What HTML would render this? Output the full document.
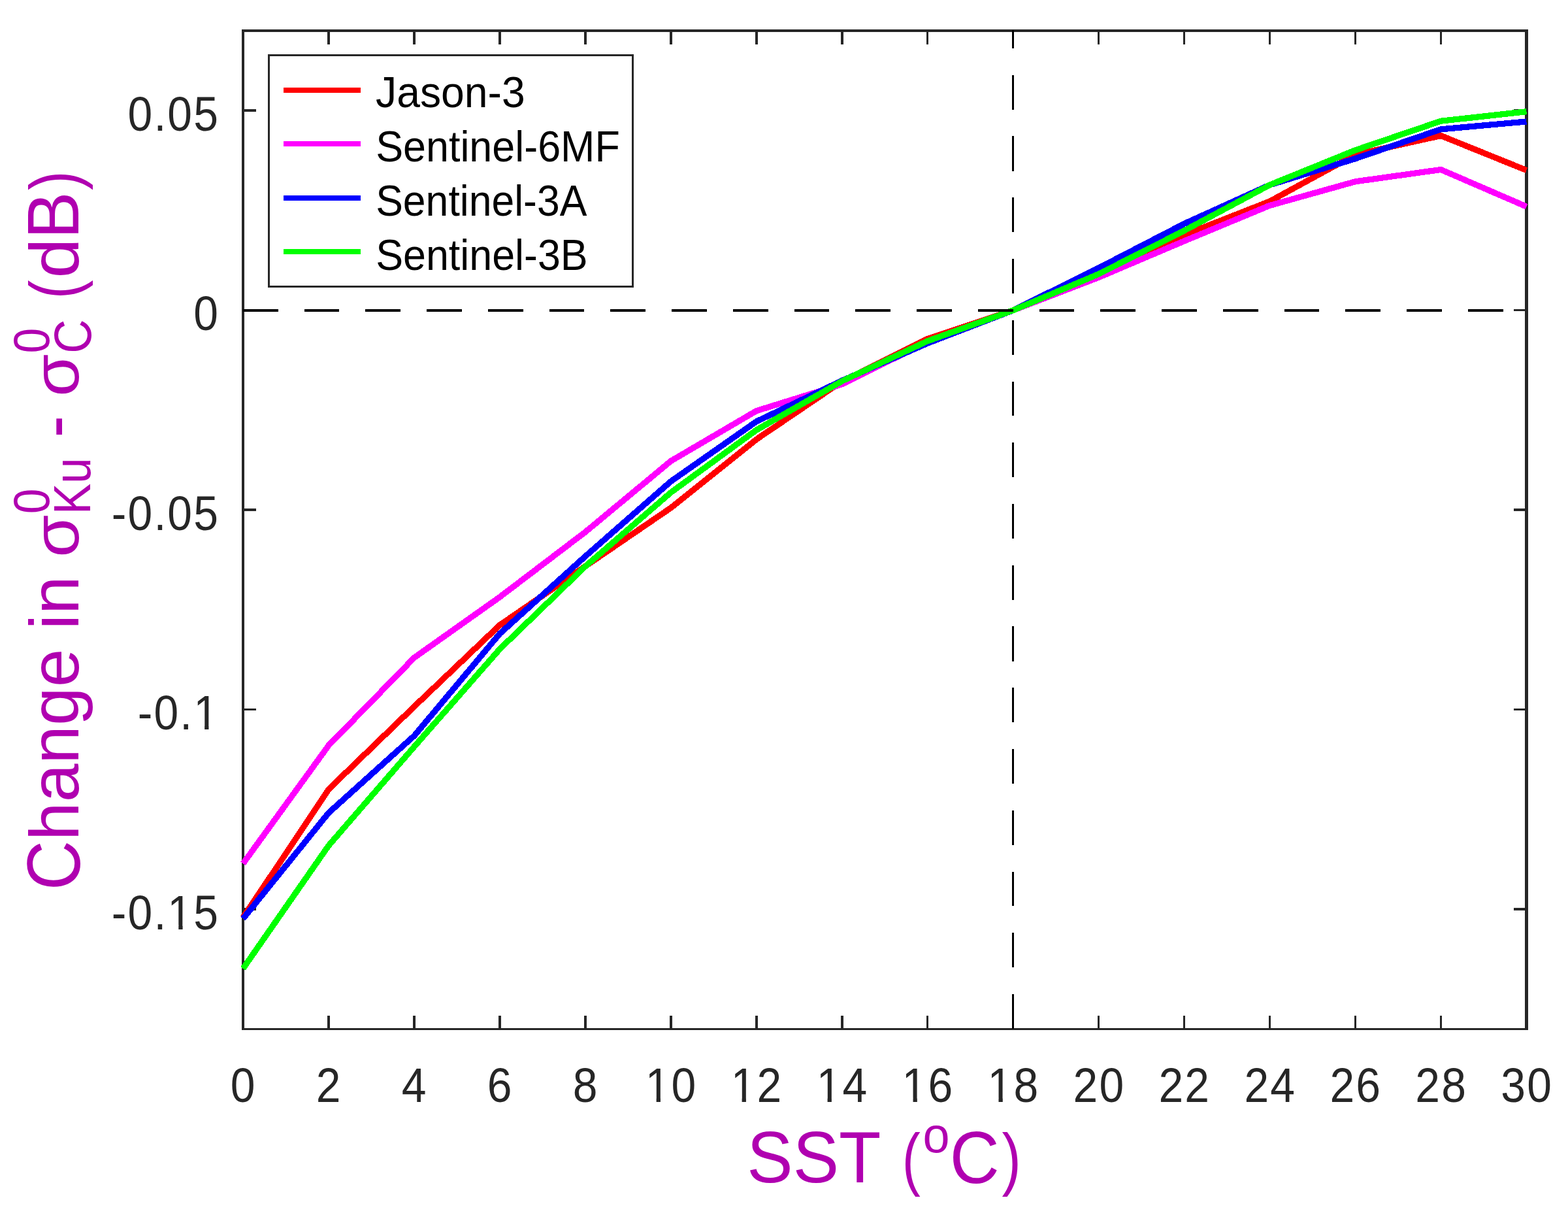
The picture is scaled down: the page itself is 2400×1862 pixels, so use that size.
<!DOCTYPE html>
<html lang="en"><head><meta charset="utf-8"><title>Change in sigma0 (Ku - C) versus SST</title>
<style>html,body{margin:0;padding:0;background:#fff}svg{display:block}text{font-family:"Liberation Sans",Arial,Helvetica,sans-serif}</style></head><body>
<svg xmlns="http://www.w3.org/2000/svg" width="2400" height="1862" viewBox="0 0 2400 1862">
<rect width="2400" height="1862" fill="#fff"/>
<g shape-rendering="crispEdges">
<rect x="370" y="45" width="1969" height="4" fill="#262626"/>
<rect x="370" y="1573" width="1969" height="3" fill="#262626"/>
<rect x="370" y="45" width="4" height="1531" fill="#262626"/>
<rect x="2334" y="45" width="5" height="1531" fill="#262626"/>
<rect x="501" y="1554" width="4" height="19" fill="#262626"/>
<rect x="501" y="49" width="4" height="19" fill="#262626"/>
<rect x="632" y="1554" width="4" height="19" fill="#262626"/>
<rect x="632" y="49" width="4" height="19" fill="#262626"/>
<rect x="763" y="1554" width="4" height="19" fill="#262626"/>
<rect x="763" y="49" width="4" height="19" fill="#262626"/>
<rect x="894" y="1554" width="4" height="19" fill="#262626"/>
<rect x="894" y="49" width="4" height="19" fill="#262626"/>
<rect x="1025" y="1554" width="4" height="19" fill="#262626"/>
<rect x="1025" y="49" width="4" height="19" fill="#262626"/>
<rect x="1156" y="1554" width="4" height="19" fill="#262626"/>
<rect x="1156" y="49" width="4" height="19" fill="#262626"/>
<rect x="1287" y="1554" width="4" height="19" fill="#262626"/>
<rect x="1287" y="49" width="4" height="19" fill="#262626"/>
<rect x="1418" y="1554" width="3" height="19" fill="#262626"/>
<rect x="1418" y="49" width="3" height="19" fill="#262626"/>
<rect x="1549" y="1554" width="3" height="19" fill="#262626"/>
<rect x="1549" y="49" width="3" height="19" fill="#262626"/>
<rect x="1680" y="1554" width="3" height="19" fill="#262626"/>
<rect x="1680" y="49" width="3" height="19" fill="#262626"/>
<rect x="1811" y="1554" width="3" height="19" fill="#262626"/>
<rect x="1811" y="49" width="3" height="19" fill="#262626"/>
<rect x="1942" y="1554" width="3" height="19" fill="#262626"/>
<rect x="1942" y="49" width="3" height="19" fill="#262626"/>
<rect x="2073" y="1554" width="3" height="19" fill="#262626"/>
<rect x="2073" y="49" width="3" height="19" fill="#262626"/>
<rect x="2204" y="1554" width="3" height="19" fill="#262626"/>
<rect x="2204" y="49" width="3" height="19" fill="#262626"/>
<rect x="374" y="167" width="18" height="4" fill="#262626"/>
<rect x="2317" y="167" width="17" height="4" fill="#262626"/>
<rect x="374" y="473" width="18" height="3" fill="#262626"/>
<rect x="2317" y="473" width="17" height="3" fill="#262626"/>
<rect x="374" y="778" width="18" height="4" fill="#262626"/>
<rect x="2317" y="778" width="17" height="4" fill="#262626"/>
<rect x="374" y="1084" width="18" height="3" fill="#262626"/>
<rect x="2317" y="1084" width="17" height="3" fill="#262626"/>
<rect x="374" y="1389" width="18" height="4" fill="#262626"/>
<rect x="2317" y="1389" width="17" height="4" fill="#262626"/>
</g>
<g fill="none" stroke-width="9.2" stroke-linejoin="round" stroke-linecap="butt" shape-rendering="crispEdges">
<polyline stroke="#ff0000" points="372.04,1404.00 503.00,1207.60 633.96,1081.10 764.92,956.40 895.88,866.40 1026.84,777.00 1157.80,672.20 1288.76,583.50 1419.72,518.40 1550.68,474.75 1681.64,417.40 1812.60,359.50 1943.56,308.00 2074.52,236.60 2205.48,207.60 2336.44,260.50"/>
<polyline stroke="#ff00ff" points="372.04,1321.30 503.00,1140.50 633.96,1006.30 764.92,913.50 895.88,814.00 1026.84,705.40 1157.80,628.60 1288.76,587.90 1419.72,523.00 1550.68,474.75 1681.64,424.40 1812.60,368.80 1943.56,314.40 2074.52,277.80 2205.48,259.50 2336.44,316.10"/>
<polyline stroke="#0000ff" points="372.04,1405.60 503.00,1243.60 633.96,1125.80 764.92,969.50 895.88,851.20 1026.84,736.50 1157.80,644.90 1288.76,582.40 1419.72,525.20 1550.68,474.75 1681.64,410.00 1812.60,342.30 1943.56,282.90 2074.52,242.70 2205.48,197.80 2336.44,186.00"/>
<polyline stroke="#00ff00" points="372.04,1481.90 503.00,1293.70 633.96,1142.50 764.92,993.10 895.88,866.60 1026.84,753.50 1157.80,657.90 1288.76,583.10 1419.72,521.80 1550.68,474.75 1681.64,419.30 1812.60,352.90 1943.56,282.90 2074.52,229.75 2205.48,185.20 2336.44,170.70"/>
</g>
<g shape-rendering="crispEdges">
<rect x="372" y="473" width="54" height="4" fill="#000"/>
<rect x="466" y="473" width="53" height="4" fill="#000"/>
<rect x="559" y="473" width="54" height="4" fill="#000"/>
<rect x="653" y="473" width="54" height="4" fill="#000"/>
<rect x="747" y="473" width="54" height="4" fill="#000"/>
<rect x="841" y="473" width="53" height="4" fill="#000"/>
<rect x="934" y="473" width="54" height="4" fill="#000"/>
<rect x="1028" y="473" width="54" height="4" fill="#000"/>
<rect x="1122" y="473" width="54" height="4" fill="#000"/>
<rect x="1216" y="473" width="53" height="4" fill="#000"/>
<rect x="1309" y="473" width="54" height="4" fill="#000"/>
<rect x="1403" y="473" width="54" height="4" fill="#000"/>
<rect x="1497" y="473" width="54" height="4" fill="#000"/>
<rect x="1591" y="473" width="53" height="4" fill="#000"/>
<rect x="1684" y="473" width="54" height="4" fill="#000"/>
<rect x="1778" y="473" width="54" height="4" fill="#000"/>
<rect x="1872" y="473" width="54" height="4" fill="#000"/>
<rect x="1966" y="473" width="53" height="4" fill="#000"/>
<rect x="2059" y="473" width="54" height="4" fill="#000"/>
<rect x="2153" y="473" width="54" height="4" fill="#000"/>
<rect x="2247" y="473" width="54" height="4" fill="#000"/>
<rect x="1549" y="1521" width="3" height="53" fill="#000"/>
<rect x="1549" y="1427" width="3" height="53" fill="#000"/>
<rect x="1549" y="1334" width="3" height="52" fill="#000"/>
<rect x="1549" y="1240" width="3" height="53" fill="#000"/>
<rect x="1549" y="1146" width="3" height="53" fill="#000"/>
<rect x="1549" y="1052" width="3" height="53" fill="#000"/>
<rect x="1549" y="958" width="3" height="54" fill="#000"/>
<rect x="1549" y="865" width="3" height="53" fill="#000"/>
<rect x="1549" y="771" width="3" height="53" fill="#000"/>
<rect x="1549" y="677" width="3" height="53" fill="#000"/>
<rect x="1549" y="584" width="3" height="52" fill="#000"/>
<rect x="1549" y="490" width="3" height="53" fill="#000"/>
<rect x="1549" y="396" width="3" height="53" fill="#000"/>
<rect x="1549" y="302" width="3" height="53" fill="#000"/>
<rect x="1549" y="208" width="3" height="54" fill="#000"/>
<rect x="1549" y="115" width="3" height="53" fill="#000"/>
<rect x="1549" y="46" width="3" height="28" fill="#000"/>
</g>
<g shape-rendering="crispEdges">
<rect x="410" y="83" width="560" height="357" fill="#262626"/>
<rect x="413" y="86" width="554" height="351" fill="#fff"/>
<rect x="434" y="134" width="118" height="8" fill="#ff0000"/>
<rect x="434" y="216" width="118" height="8" fill="#ff00ff"/>
<rect x="434" y="299" width="118" height="8" fill="#0000ff"/>
<rect x="434" y="381" width="118" height="8" fill="#00ff00"/>
</g>
<text transform="translate(575.00 164.20) scale(1.0050 1.0500)" font-size="64" fill="#000">Jason-3</text>
<text transform="translate(575.15 247.20) scale(0.9820 1.0500)" font-size="64" fill="#000">Sentinel-6MF</text>
<text transform="translate(575.16 329.60) scale(0.9770 1.0500)" font-size="64" fill="#000">Sentinel-3A</text>
<text transform="translate(575.15 412.90) scale(0.9810 1.0500)" font-size="64" fill="#000">Sentinel-3B</text>
<text transform="translate(352.86 1686.00) scale(0.9550 1.0400)" font-size="71.1" letter-spacing="2.2" fill="#262626">0</text>
<text transform="translate(483.82 1686.00) scale(0.9550 1.0400)" font-size="71.1" letter-spacing="2.2" fill="#262626">2</text>
<text transform="translate(614.78 1686.00) scale(0.9550 1.0400)" font-size="71.1" letter-spacing="2.2" fill="#262626">4</text>
<text transform="translate(745.74 1686.00) scale(0.9550 1.0400)" font-size="71.1" letter-spacing="2.2" fill="#262626">6</text>
<text transform="translate(876.70 1686.00) scale(0.9550 1.0400)" font-size="71.1" letter-spacing="2.2" fill="#262626">8</text>
<text transform="translate(987.73 1686.00) scale(0.9550 1.0400)" font-size="71.1" letter-spacing="2.2" fill="#262626">10</text>
<rect x="991.90" y="1679.88" width="12.75" height="7.12" fill="#fff"/>
<rect x="1010.95" y="1679.88" width="12.22" height="7.12" fill="#fff"/>
<text transform="translate(1118.69 1686.00) scale(0.9550 1.0400)" font-size="71.1" letter-spacing="2.2" fill="#262626">12</text>
<rect x="1122.86" y="1679.88" width="12.75" height="7.12" fill="#fff"/>
<rect x="1141.91" y="1679.88" width="12.22" height="7.12" fill="#fff"/>
<text transform="translate(1249.65 1686.00) scale(0.9550 1.0400)" font-size="71.1" letter-spacing="2.2" fill="#262626">14</text>
<rect x="1253.82" y="1679.88" width="12.75" height="7.12" fill="#fff"/>
<rect x="1272.87" y="1679.88" width="12.22" height="7.12" fill="#fff"/>
<text transform="translate(1380.61 1686.00) scale(0.9550 1.0400)" font-size="71.1" letter-spacing="2.2" fill="#262626">16</text>
<rect x="1384.78" y="1679.88" width="12.75" height="7.12" fill="#fff"/>
<rect x="1403.83" y="1679.88" width="12.22" height="7.12" fill="#fff"/>
<text transform="translate(1511.57 1686.00) scale(0.9550 1.0400)" font-size="71.1" letter-spacing="2.2" fill="#262626">18</text>
<rect x="1515.74" y="1679.88" width="12.75" height="7.12" fill="#fff"/>
<rect x="1534.79" y="1679.88" width="12.22" height="7.12" fill="#fff"/>
<text transform="translate(1642.53 1686.00) scale(0.9550 1.0400)" font-size="71.1" letter-spacing="2.2" fill="#262626">20</text>
<text transform="translate(1773.49 1686.00) scale(0.9550 1.0400)" font-size="71.1" letter-spacing="2.2" fill="#262626">22</text>
<text transform="translate(1904.45 1686.00) scale(0.9550 1.0400)" font-size="71.1" letter-spacing="2.2" fill="#262626">24</text>
<text transform="translate(2035.41 1686.00) scale(0.9550 1.0400)" font-size="71.1" letter-spacing="2.2" fill="#262626">26</text>
<text transform="translate(2166.37 1686.00) scale(0.9550 1.0400)" font-size="71.1" letter-spacing="2.2" fill="#262626">28</text>
<text transform="translate(2297.33 1686.00) scale(0.9550 1.0400)" font-size="71.1" letter-spacing="2.2" fill="#262626">30</text>
<text transform="translate(195.54 199.50) scale(0.9550 1.0400)" font-size="71.1" letter-spacing="2.2" fill="#262626">0.05</text>
<text transform="translate(296.24 505.00) scale(0.9550 1.0400)" font-size="71.1" letter-spacing="2.2" fill="#262626">0</text>
<text transform="translate(170.83 810.50) scale(0.9550 1.0400)" font-size="71.1" letter-spacing="2.2" fill="#262626">-0.05</text>
<text transform="translate(210.69 1116.00) scale(0.9550 1.0400)" font-size="71.1" letter-spacing="2.2" fill="#262626">-0.1</text>
<rect x="300.41" y="1109.88" width="12.75" height="7.12" fill="#fff"/>
<rect x="319.46" y="1109.88" width="12.22" height="7.12" fill="#fff"/>
<text transform="translate(170.83 1421.50) scale(0.9550 1.0400)" font-size="71.1" letter-spacing="2.2" fill="#262626">-0.15</text>
<rect x="260.55" y="1415.38" width="12.75" height="7.12" fill="#fff"/>
<rect x="279.60" y="1415.38" width="12.22" height="7.12" fill="#fff"/>
<g>
<text transform="translate(1143.31 1808.70) scale(1.0000 1.0570)" font-size="105.5" fill="#b000b0">SST</text>
<text transform="translate(1380.67 1809.00) scale(0.8000 1.0080)" font-size="105.5" fill="#b000b0">(</text>
<text transform="translate(1412.60 1762.65) scale(1.0000 1.0300)" font-size="73.85" fill="#b000b0">o</text>
<text transform="translate(1453.86 1810.30) scale(0.9970 1.0800)" font-size="105.5" fill="#b000b0">C</text>
<text transform="translate(1533.38 1809.00) scale(0.8370 1.0080)" font-size="105.5" fill="#b000b0">)</text>
</g>
<g transform="rotate(-90)">
<text transform="translate(-1361.94 121.70) scale(0.9970 1.0880)" font-size="105.5" fill="#b000b0">C</text>
<text transform="translate(-1285.96 120.10) scale(1.0000 1.0030)" font-size="105.5" fill="#b000b0">hange in</text>
<text transform="translate(-852.63 120.10) scale(1.0000 0.9540)" font-size="105.5" fill="#b000b0">σ</text>
<text transform="translate(-786.23 74.60) scale(0.9460 1.0520)" font-size="73.85" fill="#b000b0">0</text>
<text transform="translate(-786.92 138.00) scale(0.9600 1.0700)" font-size="73.85" fill="#b000b0">Ku</text>
<text transform="translate(-669.39 120.10) scale(0.9570 1.0600)" font-size="105.5" fill="#b000b0">-</text>
<text transform="translate(-606.73 120.10) scale(1.0000 0.9540)" font-size="105.5" fill="#b000b0">σ</text>
<text transform="translate(-540.43 74.60) scale(0.9460 1.0520)" font-size="73.85" fill="#b000b0">0</text>
<text transform="translate(-540.77 138.80) scale(0.9790 1.0800)" font-size="73.85" fill="#b000b0">C</text>
<text transform="translate(-457.26 120.10) scale(0.8200 1.0080)" font-size="105.5" fill="#b000b0">(</text>
<text transform="translate(-425.61 120.10) scale(1.0400 1.0030)" font-size="105.5" fill="#b000b0">d</text>
<text transform="translate(-365.81 120.10) scale(1.0290 1.0600)" font-size="105.5" fill="#b000b0">B</text>
<text transform="translate(-291.12 120.10) scale(0.8370 1.0080)" font-size="105.5" fill="#b000b0">)</text>
</g>
</svg></body></html>
